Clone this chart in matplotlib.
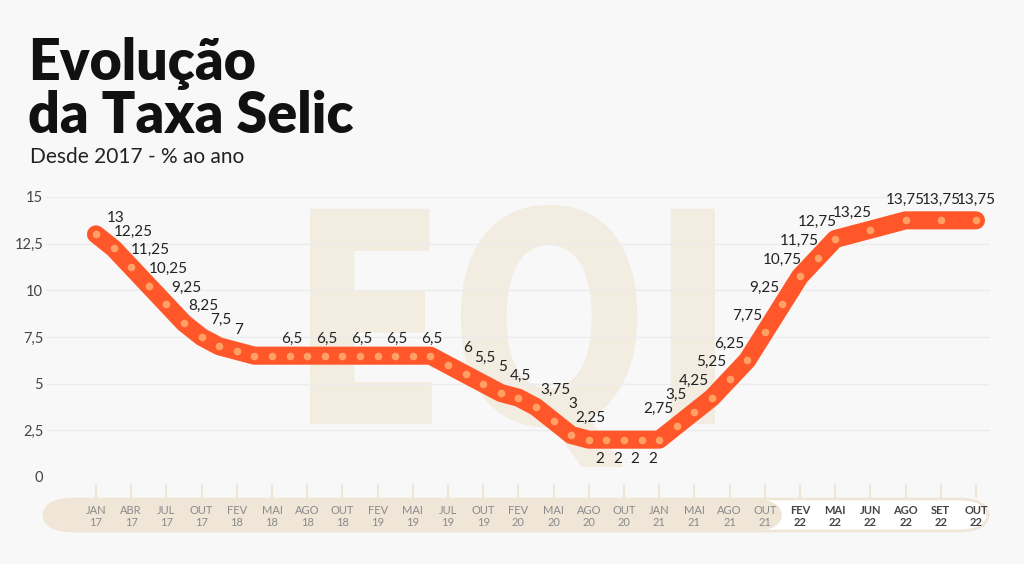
import matplotlib.pyplot as plt
from matplotlib.patches import FancyBboxPatch, PathPatch
from matplotlib.textpath import TextPath
from matplotlib.font_manager import FontProperties
from matplotlib.transforms import Affine2D

# position in tick units (one tick ~ every other Copom meeting), Selic value, label shown?
pos = [0, 0.5, 1, 1.5, 2, 2.5, 3, 3.5, 4, 4.5, 5, 5.5, 6, 6.5, 7, 7.5, 8, 8.5, 9, 9.5,
       10, 10.5, 11, 11.5, 12, 12.5, 13, 13.5, 14, 14.5, 15, 15.5, 16, 16.5, 17, 17.5,
       18, 18.5, 19, 19.5, 20, 20.5, 21, 22, 23, 24, 25]
selic = [13, 12.25, 11.25, 10.25, 9.25, 8.25, 7.5, 7, 6.75, 6.5, 6.5, 6.5, 6.5, 6.5, 6.5,
         6.5, 6.5, 6.5, 6.5, 6.5, 6, 5.5, 5, 4.5, 4.25, 3.75, 3, 2.25, 2, 2, 2, 2, 2, 2.75,
         3.5, 4.25, 5.25, 6.25, 7.75, 9.25, 10.75, 11.75, 12.75, 13.25, 13.75, 13.75, 13.75]
show = [1, 1, 1, 1, 1, 1, 1, 1, 0, 0, 1, 0, 1, 0, 1, 0, 1, 0, 1, 0,
        1, 1, 1, 1, 0, 1, 1, 1, 1, 1, 1, 1, 0, 1, 1, 1, 1, 1, 1, 1, 1, 1, 1, 1, 1, 1, 1]
below = [14, 14.5, 15, 15.5]

months = ["JAN", "ABR", "JUL", "OUT", "FEV", "MAI", "AGO", "OUT", "FEV", "MAI", "JUL", "OUT", "FEV",
          "MAI", "AGO", "OUT", "JAN", "MAI", "AGO", "OUT", "FEV", "MAI", "JUN", "AGO", "SET", "OUT"]
years = ["17", "17", "17", "17", "18", "18", "18", "18", "19", "19", "19", "19", "20",
         "20", "20", "20", "21", "21", "21", "21", "22", "22", "22", "22", "22", "22"]
yticks = [0, 2.5, 5, 7.5, 10, 12.5, 15]

W, H = 1024, 564
fig = plt.figure(figsize=(W / 100, H / 100), dpi=100)
fig.patch.set_facecolor("#f8f8f8")

def fx(px):
    return px / W

def fy(py):
    return 1 - py / H

ax = fig.add_axes([fx(46), fy(477), fx(990) - fx(46), fy(197) - fy(477)])
ax.set_zorder(2)
ax.set_facecolor("none")
ax.set_xlim((46 - 96) / 35.2, (990 - 96) / 35.2)
ax.set_ylim(0, 15)
for s in ax.spines.values():
    s.set_visible(False)
ax.set_xticks([])
ax.set_yticks(yticks)
ax.set_yticklabels([f"{v:g}".replace(".", ",") for v in yticks], color="#444444", fontsize=10.5,
                   fontfamily="Lato")
ax.tick_params(axis="y", length=0, pad=2)
for v in yticks:
    ax.axhline(v, color="#ececec", lw=1, zorder=0)

# watermark EQI
fp = FontProperties(family="DejaVu Sans", weight="bold")
tp = TextPath((0, 0), "EQI", prop=fp, size=100)
bb = tp.get_extents()
sx = (715 - 310) / bb.width
sy = (467 - 205) / bb.height
tr = Affine2D().translate(-bb.x0, -bb.y0).scale(sx, sy).translate(310, H - 467)
fig.patches.append(PathPatch(tr.transform_path(tp), facecolor="#f3ece0", edgecolor="none",
                             transform=None, zorder=0))

# line + dots
ax.plot(pos, selic, color="#ff5729", lw=13, solid_joinstyle="round", solid_capstyle="round", zorder=3)
ax.plot(pos, selic, "o", color="#ffa064", ms=5.5, mec="none", zorder=4)
for i, (x, v, s) in enumerate(zip(pos, selic, show)):
    if not s:
        continue
    txt = f"{v:g}".replace(".", ",")
    if x in below:
        off = (8, -14)
    elif v == 13.75:
        off = (0, 15)
    elif i >= 33:
        off = (-13, 12)
    else:
        off = (14, 12)
    ax.annotate(txt, (x, v), xytext=off, textcoords="offset points", ha="center",
                va="center", fontsize=11, color="#222222", fontfamily="Lato", zorder=5)

# x band
fig.patches.append(FancyBboxPatch((fx(44), fy(531)), fx(988) - fx(44), fy(499) - fy(531),
                                  boxstyle="round,pad=0,rounding_size=0.03", transform=fig.transFigure,
                                  facecolor="white", edgecolor="#efe6d8", lw=2, zorder=1,
                                  mutation_aspect=H / W * 1.8))
fig.patches.append(FancyBboxPatch((fx(44), fy(531)), fx(782) - fx(44), fy(499) - fy(531),
                                  boxstyle="round,pad=0,rounding_size=0.03", transform=fig.transFigure,
                                  facecolor="#efe6d8", edgecolor="none", zorder=1,
                                  mutation_aspect=H / W * 1.8))
trx = ax.get_xaxis_transform()
for i, (m, y) in enumerate(zip(months, years)):
    ax.plot([i, i], [-0.029, -0.071], transform=trx, color="#efe6d8", lw=1.5, clip_on=False)
    bold = y == "22"
    c = "#444444" if bold else "#8a8a8a"
    fw = "bold" if bold else "normal"
    ax.text(i, -0.118, m, transform=trx, ha="center", va="center", fontsize=8, color=c,
            fontweight=fw, fontfamily="Lato")
    ax.text(i, -0.161, y, transform=trx, ha="center", va="center", fontsize=8, color=c,
            fontweight=fw, fontfamily="Lato")

# titles
fig.text(fx(28), fy(64), "Evolução", fontsize=40, fontweight="heavy", fontfamily="Lato",
         color="#111111", va="center")
fig.text(fx(28), fy(116), "da Taxa Selic", fontsize=40, fontweight="heavy", fontfamily="Lato",
         color="#111111", va="center")
fig.text(fx(30), fy(157), "Desde 2017 - % ao ano", fontsize=15, fontfamily="Lato",
         color="#222222", va="center")

fig.savefig("out.png", dpi=100, facecolor=fig.get_facecolor())
